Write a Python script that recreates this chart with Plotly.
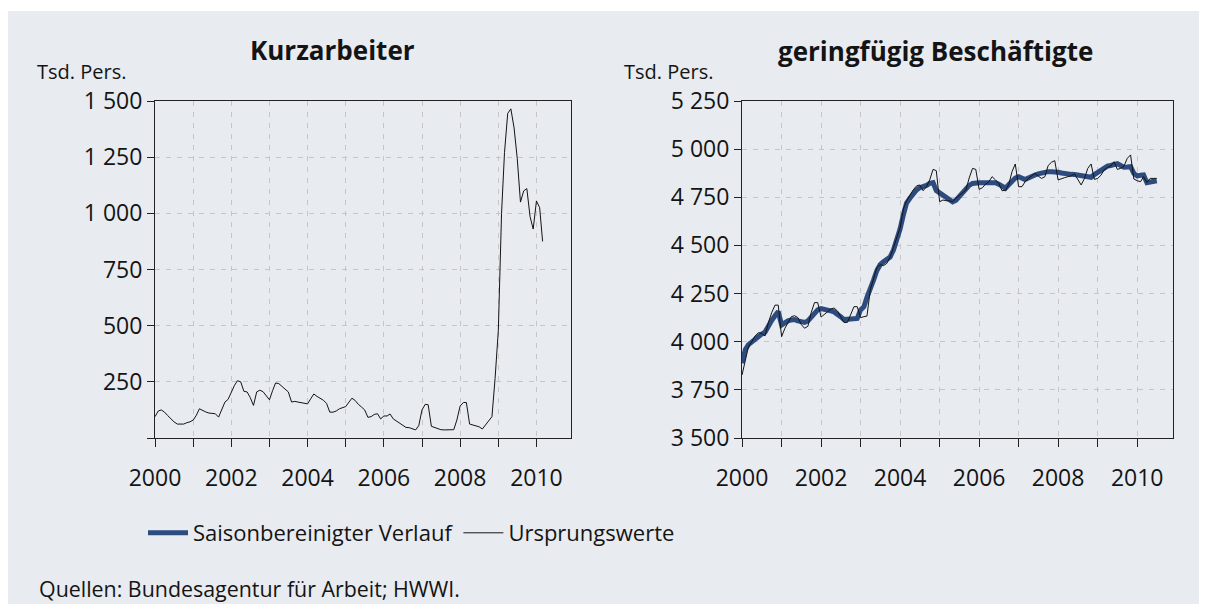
import plotly.graph_objects as go
import pandas as pd

# ---------------- data ----------------
# Kurzarbeiter, Ursprungswerte, Tsd. Personen, monthly from Jan 2000
kurz_ursprung = [
    95, 120, 125, 115, 100, 85, 72, 62, 62, 62, 68, 72,            # 2000
    80, 102, 130, 122, 116, 111, 108, 108, 93, 128, 160, 172,       # 2001
    205, 235, 255, 250, 208, 205, 180, 145, 205, 213, 206, 190,     # 2002
    170, 212, 245, 242, 230, 220, 205, 160, 163, 160, 158, 155,     # 2003
    152, 175, 196, 185, 176, 168, 154, 115, 115, 120, 130, 134,     # 2004
    140, 160, 177, 167, 150, 138, 125, 92, 95, 105, 108, 85,        # 2005
    98, 98, 107, 85, 76, 66, 55, 47, 46, 42, 36, 55,                # 2006
    125, 150, 148, 52, 46, 42, 37, 36, 36, 36, 37, 80,              # 2007
    142, 158, 158, 62, 58, 55, 50, 40, 58, 72, 95, 265,             # 2008
    480, 1000, 1270, 1445, 1465, 1380, 1245, 1050, 1100, 1110, 985, 930,  # 2009
    1055, 1025, 875,                                                # 2010
]

# geringfügig Beschäftigte, saisonbereinigt, Tsd. Personen
gb_saison = [
    3888, 3960, 3985, 4000, 4015, 4030, 4040, 4050, 4085, 4110, 4135, 4156,  # 2000
    4087, 4100, 4108, 4113, 4115, 4108, 4102, 4100, 4108, 4125, 4145, 4165,  # 2001
    4172, 4170, 4165, 4160, 4155, 4145, 4130, 4115, 4115, 4118, 4121, 4121,  # 2002
    4165, 4182, 4230, 4268, 4320, 4370, 4400, 4415, 4425, 4440, 4476, 4528,  # 2003
    4585, 4660, 4720, 4745, 4771, 4788, 4800, 4803, 4812, 4822, 4826, 4785,  # 2004
    4773, 4762, 4753, 4738, 4726, 4735, 4755, 4780, 4797, 4812, 4822, 4826,  # 2005
    4826, 4826, 4826, 4826, 4826, 4826, 4818, 4806, 4797, 4815, 4835, 4850,  # 2006
    4857, 4850, 4842, 4850, 4860, 4866, 4872, 4878, 4881, 4883, 4883, 4883,  # 2007
    4880, 4876, 4872, 4870, 4869, 4868, 4866, 4862, 4857, 4855, 4854, 4868,  # 2008
    4880, 4893, 4903, 4912, 4915, 4918, 4925, 4915, 4906, 4907, 4909, 4874,  # 2009
    4861, 4864, 4866, 4826, 4831, 4834, 4836,                                # 2010
]

# geringfügig Beschäftigte, Ursprungswerte, Tsd. Personen
gb_ursprung = [
    3827, 3900, 3975, 4000, 4030, 4047, 4043, 4030, 4100, 4150, 4190, 4190,  # 2000
    4026, 4070, 4100, 4130, 4135, 4125, 4090, 4070, 4080, 4150, 4203, 4203,  # 2001
    4128, 4140, 4155, 4170, 4175, 4160, 4130, 4100, 4100, 4140, 4182, 4182,  # 2002
    4125, 4130, 4133, 4270, 4330, 4385, 4400, 4395, 4407, 4440, 4490, 4535,  # 2003
    4590, 4690, 4730, 4760, 4788, 4809, 4814, 4784, 4805, 4840, 4895, 4888,  # 2004
    4727, 4736, 4732, 4732, 4727, 4745, 4760, 4771, 4788, 4850, 4900, 4895,  # 2005
    4791, 4800, 4818, 4831, 4857, 4840, 4822, 4784, 4786, 4815, 4883, 4923,  # 2006
    4805, 4805, 4830, 4848, 4860, 4874, 4860, 4848, 4857, 4915, 4932, 4940,  # 2007
    4840, 4848, 4852, 4857, 4861, 4871, 4840, 4814, 4848, 4900, 4923, 4843,  # 2008
    4848, 4865, 4892, 4905, 4912, 4935, 4895, 4900, 4912, 4952, 4970, 4845,  # 2009
    4836, 4831, 4857, 4826, 4848, 4848, 4848,                                # 2010
]

years = list(range(2000, 2011))
year_ticks = [f"{y}-01-01" for y in years]
year_labels = [str(y) if y % 2 == 0 else "" for y in years]

left_y_ticks = [0, 250, 500, 750, 1000, 1250, 1500]
left_y_labels = ["", "250", "500", "750", "1 000", "1 250", "1 500"]
right_y_ticks = [3500, 3750, 4000, 4250, 4500, 4750, 5000, 5250]
right_y_labels = ["3 500", "3 750", "4 000", "4 250", "4 500", "4 750", "5 000", "5 250"]

title_left = "Kurzarbeiter"
title_right = "geringfügig Beschäftigte"
unit_label = "Tsd. Pers."
name_saison = "Saisonbereinigter Verlauf"
name_ursprung = "Ursprungswerte"
source_text = "Quellen: Bundesagentur für Arbeit; HWWI."

# ---------------- layout helpers ----------------
PAGE_W, PAGE_H = 1207, 612
BODY = 8                      # default page margin around the figure
W, H = PAGE_W - 2 * BODY, PAGE_H - 2 * BODY
FONT = "Open Sans"
BLUE = "#2D4B7E"
PANEL = "#E8EBF0"
INK = "#141414"


def px(x):
    """page pixel x -> paper fraction"""
    return (x - BODY) / W


def py(y):
    """page pixel y -> paper fraction"""
    return (H - (y - BODY)) / H


kurz_x = pd.date_range("2000-01-01", periods=len(kurz_ursprung), freq="MS")
gb_x = pd.date_range("2000-01-01", periods=len(gb_saison), freq="MS")

fig = go.Figure()
fig.add_trace(go.Scatter(x=kurz_x, y=kurz_ursprung, mode="lines", name=name_ursprung,
                         line=dict(color=INK, width=1), xaxis="x", yaxis="y",
                         showlegend=False, hoverinfo="skip"))
fig.add_trace(go.Scatter(x=gb_x, y=gb_saison, mode="lines", name=name_saison,
                         line=dict(color=BLUE, width=5), xaxis="x2", yaxis="y2",
                         hoverinfo="skip"))
fig.add_trace(go.Scatter(x=gb_x, y=gb_ursprung, mode="lines", name=name_ursprung,
                         line=dict(color=INK, width=1), xaxis="x2", yaxis="y2",
                         hoverinfo="skip"))

axis_common = dict(
    showline=True, linecolor="#222222", linewidth=1, mirror=True,
    ticks="outside", tickcolor="#222222", tickwidth=1,
    showgrid=True, gridcolor="#C6C6C6", gridwidth=1, griddash="5px,6px",
    zeroline=False, fixedrange=True, automargin=False,
    tickfont=dict(family=FONT, size=23, color=INK),
)

x_common = dict(axis_common, type="date", range=["2000-01-01", "2010-11-28"],
                tickmode="array", tickvals=year_ticks, ticktext=year_labels,
                ticklen=8, ticklabelstandoff=11)

y_domain = [py(438), py(101)]

fig.update_layout(
    template="none",
    width=W, height=H, autosize=False,
    margin=dict(l=0, r=0, t=0, b=0, pad=0, autoexpand=False),
    paper_bgcolor="white",
    plot_bgcolor="rgba(0,0,0,0)",
    font=dict(family=FONT, color=INK),
    xaxis=dict(x_common, domain=[px(155), px(571)], anchor="y"),
    yaxis=dict(axis_common, domain=y_domain, anchor="x", range=[0, 1500],
               tickmode="array", tickvals=left_y_ticks, ticktext=left_y_labels,
               ticklen=7),
    xaxis2=dict(x_common, domain=[px(742), px(1173)], anchor="y2"),
    yaxis2=dict(axis_common, domain=y_domain, anchor="x2", range=[3500, 5250],
                tickmode="array", tickvals=right_y_ticks, ticktext=right_y_labels,
                ticklen=7),
    legend=dict(orientation="h", x=px(143), xanchor="left", y=py(533), yanchor="middle",
                font=dict(family=FONT, size=22, color=INK),
                bgcolor="rgba(0,0,0,0)", borderwidth=0, itemwidth=40, tracegroupgap=0),
    shapes=[dict(type="rect", xref="paper", yref="paper", layer="below",
                 x0=px(0), x1=px(PAGE_W + 10), y0=py(PAGE_H + 10), y1=py(11),
                 fillcolor=PANEL, line=dict(width=0))],
    annotations=[
        dict(text=f"<b>{title_left}</b>", x=px(332), y=py(50), xref="paper", yref="paper",
             xanchor="center", yanchor="middle", showarrow=False,
             font=dict(family=FONT, size=26, color=INK)),
        dict(text=f"<b>{title_right}</b>", x=px(935), y=py(51), xref="paper", yref="paper",
             xanchor="center", yanchor="middle", showarrow=False,
             font=dict(family=FONT, size=26, color=INK)),
        dict(text=unit_label, x=px(35), y=py(71), xref="paper", yref="paper",
             xanchor="left", yanchor="middle", showarrow=False,
             font=dict(family=FONT, size=20, color=INK)),
        dict(text=unit_label, x=px(622), y=py(71), xref="paper", yref="paper",
             xanchor="left", yanchor="middle", showarrow=False,
             font=dict(family=FONT, size=20, color=INK)),
        dict(text=source_text, x=px(37), y=py(588), xref="paper", yref="paper",
             xanchor="left", yanchor="middle", showarrow=False,
             font=dict(family=FONT, size=21.4, color=INK)),
    ],
)

fig.write_html("out.html", config={"displayModeBar": False})
